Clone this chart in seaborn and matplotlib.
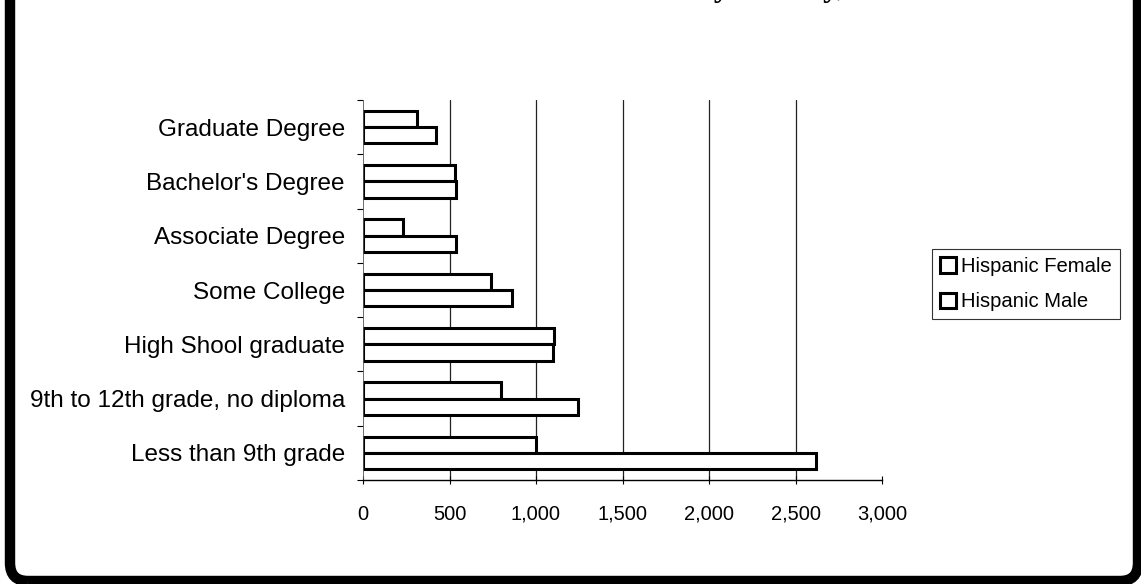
import numpy as np
import pandas as pd
import matplotlib
matplotlib.use('Agg')
import matplotlib.pyplot as plt
import seaborn as sns
from matplotlib.patches import FancyBboxPatch, Patch
from matplotlib.transforms import IdentityTransform

###################################################################################
#Data

levels = ["Graduate Degree", "Bachelor's Degree", "Associate Degree", "Some College",
          "High Shool graduate", "9th to 12th grade, no diploma", "Less than 9th grade"]
series = ["Hispanic Female", "Hispanic Male"]
female = [311, 532, 231, 740, 1105, 796, 1000]
male = [421, 535, 538, 861, 1098, 1244, 2619]
xticks = [0, 500, 1000, 1500, 2000, 2500, 3000]

df = pd.DataFrame({
    'level': levels * 2,
    'count': female + male,
    'sex': [series[0]] * len(levels) + [series[1]] * len(levels),
})

###################################################################################
#Plot

sns.set_style('white')
plt.rcParams['font.family'] = ['Liberation Sans', 'DejaVu Sans']
plt.rcParams['text.color'] = 'black'
plt.rcParams['xtick.color'] = 'black'
plt.rcParams['ytick.color'] = 'black'

fig = plt.figure(figsize=(11.41, 5.84), dpi=100)
ax = fig.add_axes([363/1141, 1-480/584, 519/1141, 380/584])

for x in xticks[1:-1]:
    ax.axvline(x, color='#222222', lw=0.9, zorder=0)

sns.barplot(data=df, y='level', x='count', hue='sex', hue_order=series, order=levels,
            orient='h', palette=['white', 'white'], edgecolor='black', linewidth=2.2,
            width=0.6, legend=False, ax=ax)

ax.set_xlim(0, 3000)
ax.set_ylim(6.5, -0.5)
ax.set_xticks(xticks)
ax.set_xticklabels([f'{v:,}' for v in xticks], fontsize=14.5, color='black')
ax.set_yticks(range(len(levels)))
ax.set_yticklabels(levels, fontsize=17.5, color='black')
ax.set_yticks(np.arange(-0.5, len(levels), 1), minor=True)
ax.tick_params(axis='y', which='major', left=True, length=0, pad=13)
ax.tick_params(axis='y', which='minor', left=True, length=4.5, width=0.8, direction='out', color='black')
ax.tick_params(axis='x', which='major', bottom=True, length=6, width=0.8, direction='inout', pad=15, color='black')
ax.set_xlabel('')
ax.set_ylabel('')
for s in ['top', 'right']:
    ax.spines[s].set_visible(False)
ax.spines['left'].set_color('#555555')
ax.spines['left'].set_linewidth(0.6)
ax.spines['bottom'].set_color('black')
ax.spines['bottom'].set_linewidth(1.0)

handles = [Patch(facecolor='white', edgecolor='black', lw=2.2) for _ in series]
leg = fig.legend(handles, series, loc='upper left', bbox_to_anchor=(932/1141, 1-249/584),
                 bbox_transform=fig.transFigure, fontsize=14.6, frameon=True, fancybox=False,
                 handlelength=0.8, handleheight=0.8, handletextpad=0.25,
                 borderpad=0.4, labelspacing=0.8, borderaxespad=0)
leg.get_frame().set_edgecolor('black')
leg.get_frame().set_linewidth(0.8)
for t in leg.get_texts():
    t.set_color('black')

# title, cut off by the top edge of the scan
fig.text(845/1141, 1 + 4/584, "Educational Attainment by County,", ha='right', va='baseline',
         fontsize=23, fontweight='bold', color='black', family=['Liberation Serif', 'DejaVu Serif'])

# rounded chart border
fig.patches.append(FancyBboxPatch((10, 3), 1128, 700, boxstyle="round,pad=0,rounding_size=18",
                                  transform=IdentityTransform(), fill=False, lw=7.5,
                                  ec='black'))

fig.savefig('out.png', dpi=100)
